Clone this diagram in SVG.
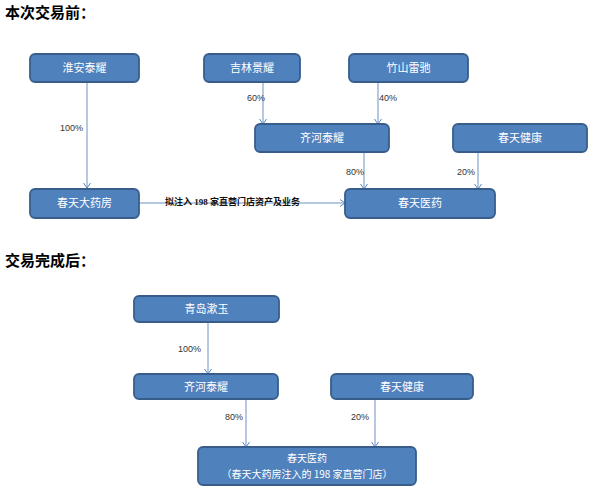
<svg xmlns="http://www.w3.org/2000/svg" width="593" height="493" viewBox="0 0 593 493">
<defs>
<marker id="arr" markerWidth="10" markerHeight="10" refX="8" refY="5" orient="auto" markerUnits="userSpaceOnUse">
<polyline points="3,1.5 8,5 3,8.5" fill="none" stroke="#5B87C0" stroke-width="1"/>
</marker>
</defs>
<style>
.box{fill:#4F81BD;stroke:#385D8A;stroke-width:1.8}
.bt{font-family:"Noto Sans CJK SC","Liberation Sans",sans-serif;font-size:11px;fill:#FFFFFF;text-anchor:middle}
.bt2{font-family:"Noto Sans CJK SC","Liberation Sans",sans-serif;font-size:10px;fill:#FFFFFF;text-anchor:middle}
.ttl{font-family:"Noto Sans CJK SC",sans-serif;font-size:15px;font-weight:bold;fill:#000000}
.pct{font-family:"Liberation Sans","Noto Sans CJK SC",sans-serif;font-size:9px;fill:#333333}
.lbl{font-family:"Liberation Serif","Noto Sans CJK SC",serif;font-size:9px;font-weight:bold;fill:#111111}
.ln{stroke:#6D92C6;stroke-width:1;fill:none;marker-end:url(#arr)}
</style>
<rect width="593" height="493" fill="#FFFFFF"/>
<text class="ttl" x="5" y="18">本次交易前：</text>
<text class="ttl" x="5" y="266">交易完成后：</text>

<g id="connectors">
<line class="ln" x1="87" y1="82" x2="87" y2="188"/>
<line class="ln" x1="263" y1="82" x2="263" y2="124"/>
<line class="ln" x1="378" y1="82" x2="378" y2="124"/>
<line class="ln" x1="364" y1="152" x2="364" y2="189"/>
<line class="ln" x1="478" y1="152" x2="478" y2="189"/>
<line class="ln" x1="139" y1="203" x2="345" y2="203"/>
<line class="ln" x1="208" y1="322" x2="208" y2="374"/>
<line class="ln" x1="246" y1="399" x2="246" y2="447"/>
<line class="ln" x1="375" y1="399" x2="375" y2="447"/>
<text class="pct" x="60" y="131">100%</text>
<text class="pct" x="247" y="101">60%</text>
<text class="pct" x="379" y="101">40%</text>
<text class="pct" x="346" y="175">80%</text>
<text class="pct" x="457" y="175">20%</text>
<text class="lbl" x="165" y="205">拟注入 198 家直营门店资产及业务</text>
<text class="pct" x="178" y="352">100%</text>
<text class="pct" x="225" y="420">80%</text>
<text class="pct" x="351" y="420">20%</text>
</g>

<g id="huaian"><rect class="box" x="30" y="54" width="109" height="28" rx="5"/><text class="bt" x="84.5" y="72">淮安泰耀</text></g>
<g id="jilin"><rect class="box" x="204" y="54" width="96" height="28" rx="5"/><text class="bt" x="252" y="72">吉林景耀</text></g>
<g id="zhushan"><rect class="box" x="349" y="54" width="119" height="28" rx="5"/><text class="bt" x="408.5" y="72">竹山雷驰</text></g>
<g id="qihe1"><rect class="box" x="255" y="124" width="134" height="28" rx="5"/><text class="bt" x="322" y="142">齐河泰耀</text></g>
<g id="jiankang1"><rect class="box" x="453" y="124" width="134" height="28" rx="5"/><text class="bt" x="520" y="142">春天健康</text></g>
<g id="dayaofang"><rect class="box" x="30" y="189" width="109" height="29" rx="5"/><text class="bt" x="84.5" y="207">春天大药房</text></g>
<g id="yiyao1"><rect class="box" x="345" y="189" width="150" height="29" rx="5"/><text class="bt" x="420" y="207">春天医药</text></g>

<g id="qingdao"><rect class="box" x="134" y="296" width="145" height="26" rx="5"/><text class="bt" x="206.5" y="313">青岛漱玉</text></g>
<g id="qihe2"><rect class="box" x="134" y="374" width="144" height="25" rx="5"/><text class="bt" x="206" y="390.5">齐河泰耀</text></g>
<g id="jiankang2"><rect class="box" x="331" y="374" width="142" height="25" rx="5"/><text class="bt" x="402" y="390.5">春天健康</text></g>
<g id="yiyao2"><rect class="box" x="198" y="447" width="218" height="38" rx="5"/><text class="bt2" x="307" y="462">春天医药</text><text class="bt2" x="307" y="478" font-size="9.5">（春天大药房注入的 198 家直营门店）</text></g>
</svg>
